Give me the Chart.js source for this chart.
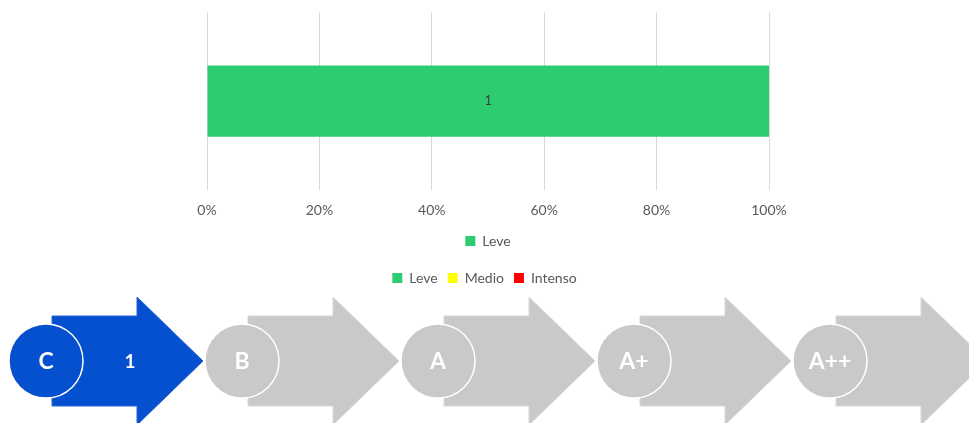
<!DOCTYPE html>
<html>
<head>
<meta charset="utf-8">
<script src="https://cdn.jsdelivr.net/npm/chart.js@4.4.0/dist/chart.umd.min.js"></script>
<style>
    body { margin: 0; background: #fff; width: 969px; height: 423px; overflow: hidden; position: relative; font-family: Lato, sans-serif; }
    #barWrap { position: absolute; left: 0; top: 0; width: 969px; height: 258px; }
    #legendWrap { position: absolute; left: 0; top: 261px; width: 969px; height: 29px; }
    #levels { position: absolute; left: 0; top: 290px; }
</style>
</head>
<body>
<div id="barWrap"><canvas id="barChart"></canvas></div>
<div id="legendWrap"><canvas id="legendChart"></canvas></div>
<canvas id="levels" width="969" height="133"></canvas>
<script>
const categories = ['Total'];
const leveValues = [1];
const intensityLabels = ['Leve', 'Medio', 'Intenso'];
const xTickLabels = ['0%', '20%', '40%', '60%', '80%', '100%'];
const levels = ['C', 'B', 'A', 'A+', 'A++'];
const levelCounts = [1, 0, 0, 0, 0];

const intensityColors = ['#2ecc71', '#ffff00', '#ff0000'];
const total = leveValues.reduce((a, b) => a + b, 0);

// writes the count in the middle of each bar
const barLabels = {
    id: 'barLabels',
    afterDatasetsDraw(chart) {
        const ctx = chart.ctx;
        chart.data.datasets.forEach((ds, i) => {
            chart.getDatasetMeta(i).data.forEach((bar, j) => {
                const v = ds.data[j];
                if (!v) return;
                const c = bar.getCenterPoint();
                ctx.save();
                ctx.fillStyle = '#404040';
                ctx.font = '13px Lato';
                ctx.textAlign = 'center';
                ctx.textBaseline = 'middle';
                ctx.fillText(v, c.x, c.y);
                ctx.restore();
            });
        });
    }
};

new Chart(document.getElementById('barChart'), {
    type: 'bar',
    data: {
        labels: categories,
        datasets: [{
            label: intensityLabels[0],
            data: leveValues,
            backgroundColor: intensityColors[0],
            barPercentage: 0.4,
            categoryPercentage: 1
        }]
    },
    options: {
        indexAxis: 'y',
        responsive: true,
        maintainAspectRatio: false,
        animation: false,
        layout: { padding: { left: 207, right: 200, top: 12 } },
        scales: {
            y: { display: false, stacked: true },
            x: {
                stacked: true,
                min: 0,
                max: total,
                border: { display: false },
                grid: { color: '#d9d9d9', drawTicks: false },
                ticks: {
                    stepSize: total / 5,
                    padding: 12,
                    color: '#595959',
                    font: { family: 'Lato', size: 14 },
                    callback: (value, index) => xTickLabels[index]
                }
            }
        },
        plugins: {
            tooltip: { enabled: false },
            legend: {
                position: 'bottom',
                labels: { boxWidth: 10, boxHeight: 10, color: '#595959', font: { family: 'Lato', size: 14 }, padding: 3 }
            }
        }
    },
    plugins: [barLabels]
});

// legend only, for the three intensities
new Chart(document.getElementById('legendChart'), {
    type: 'bar',
    data: {
        labels: categories,
        datasets: intensityLabels.map((l, i) => ({ label: l, data: [], backgroundColor: intensityColors[i] }))
    },
    options: {
        responsive: true,
        maintainAspectRatio: false,
        animation: false,
        scales: { x: { display: false }, y: { display: false } },
        plugins: {
            tooltip: { enabled: false },
            legend: {
                position: 'top',
                maxHeight: 40,
                onClick: null,
                labels: { boxWidth: 10, boxHeight: 10, color: '#595959', font: { family: 'Lato', size: 14 }, padding: 10 }
            }
        }
    }
});

// level arrows with the circled grade
const lc = document.getElementById('levels').getContext('2d');
const step = 196, cy = 71, r = 37;
const circles = [];
levels.forEach((lv, i) => {
    const cx = 46 + i * step;
    const active = levelCounts[i] > 0;
    const fill = active ? '#0450cf' : '#c9c9c9';
    const x0 = cx + 6, x1 = x0 + 85, tip = x0 + 151;
    lc.beginPath();
    lc.moveTo(x0, cy - 45);
    lc.lineTo(x1, cy - 45);
    lc.lineTo(x1, cy - 64);
    lc.lineTo(tip, cy);
    lc.lineTo(x1, cy + 64);
    lc.lineTo(x1, cy + 45);
    lc.lineTo(x0, cy + 45);
    lc.closePath();
    lc.fillStyle = fill;
    lc.fill();
    lc.strokeStyle = active ? '#2a62d6' : '#d3d8e4';
    lc.lineWidth = 1;
    lc.stroke();
    if (active) {
        lc.fillStyle = '#fff';
        lc.font = 'bold 19px Lato';
        lc.textAlign = 'center';
        lc.textBaseline = 'middle';
        lc.fillText(levelCounts[i], cx + 84, cy + 1);
    }
    circles.push({ cx, fill, lv });
});
circles.forEach(c => {
    lc.beginPath();
    lc.arc(c.cx, cy, r, 0, Math.PI * 2);
    lc.fillStyle = c.fill;
    lc.fill();
    lc.strokeStyle = '#ffffff';
    lc.lineWidth = 1.5;
    lc.stroke();
    lc.fillStyle = '#fff';
    lc.font = 'bold 23px Lato';
    lc.textAlign = 'center';
    lc.textBaseline = 'middle';
    lc.fillText(c.lv, c.cx, cy + 1);
});
</script>
</body>
</html>
